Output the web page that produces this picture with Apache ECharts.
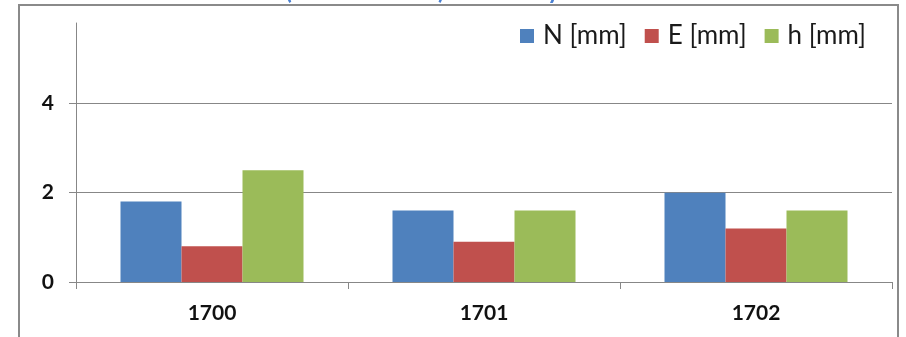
<!DOCTYPE html>
<html>
<head>
<meta charset="utf-8">
<script src="https://cdn.jsdelivr.net/npm/echarts@6/dist/echarts.min.js"></script>
<style>
  html, body { margin: 0; padding: 0; background: #ffffff; }
  #chart { width: 906px; height: 337px; }
</style>
</head>
<body>
<div id="chart"></div>
<script>
// Point numbers on the category axis
const categories = ['1700', '1701', '1702'];

// Displacement components per point, in millimetres
const seriesNames = ['N [mm]', 'E [mm]', 'h [mm]'];
const valuesN = [1.8, 1.6, 2.0];
const valuesE = [0.8, 0.9, 1.2];
const valuesH = [2.5, 1.6, 1.6];

// Value axis ticks
const yTicks = [0, 2, 4];

const colors = ['#4F81BD', '#C0504D', '#9BBB59'];
const axisGray = '#878787';
const fontFamily = 'Lato, "Open Sans", sans-serif';

const chart = echarts.init(document.getElementById('chart'), null, { renderer: 'canvas' });

const barSeries = [valuesN, valuesE, valuesH].map((vals, i) => ({
  name: seriesNames[i],
  type: 'bar',
  data: vals,
  barWidth: 61,
  barGap: '0%',
  itemStyle: { color: colors[i] },
  emphasis: { disabled: true }
}));

chart.setOption({
  animation: false,
  backgroundColor: '#ffffff',
  color: colors,
  grid: { left: 76, right: 14, top: 23, bottom: 55, containLabel: false },
  legend: {
    left: 515,
    top: 18,
    itemWidth: 14,
    itemHeight: 14,
    itemGap: 18,
    icon: 'rect',
    textStyle: { fontFamily, fontSize: 26, color: '#1a1a1a', padding: [0, 0, 0, 4] },
    data: seriesNames
  },
  xAxis: {
    type: 'category',
    data: categories,
    axisLine: { lineStyle: { color: axisGray, width: 1 } },
    axisTick: { show: true, alignWithLabel: false, length: 7, lineStyle: { color: axisGray } },
    axisLabel: { fontFamily, fontSize: 21, fontWeight: 'bold', color: '#111', margin: 21 },
    splitLine: { show: false }
  },
  yAxis: {
    type: 'value',
    min: yTicks[0],
    max: 5.8,
    interval: yTicks[1] - yTicks[0],
    axisLine: { show: true, lineStyle: { color: axisGray, width: 1 } },
    axisTick: { show: true, length: 7, lineStyle: { color: axisGray } },
    axisLabel: {
      fontFamily, fontSize: 21, fontWeight: 'bold', color: '#111', margin: 22,
      showMaxLabel: false,
      formatter: v => (yTicks.indexOf(v) >= 0 ? String(v) : '')
    },
    splitLine: { show: true, showMaxLine: false, lineStyle: { color: axisGray, width: 1 } }
  },
  graphic: [
    {
      type: 'text',
      left: 214,
      top: -21,
      z: 1,
      style: {
        text: 'Rozdíl (1700 až 1702) – hodnoty',
        fontFamily,
        fontSize: 24,
        fontWeight: 'bold',
        fill: '#4a80d2'
      }
    },
    {
      type: 'rect',
      z: 2,
      shape: { x: 19, y: 5, width: 879, height: 360 },
      style: { fill: 'none', stroke: '#8a8a8a', lineWidth: 2 }
    }
  ],
  series: barSeries
});
</script>
</body>
</html>
